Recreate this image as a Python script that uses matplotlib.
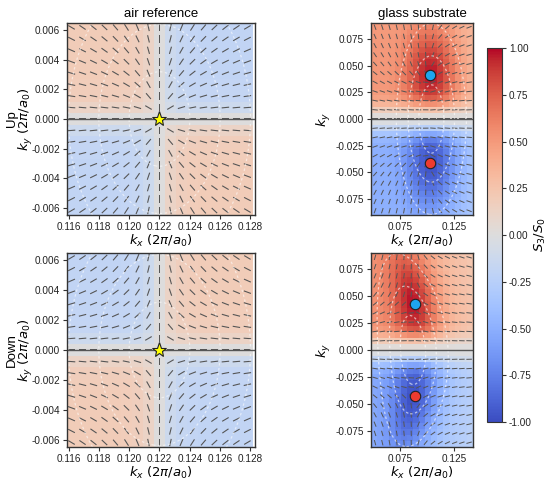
import matplotlib
matplotlib.use('Agg')
import matplotlib.pyplot as plt
import numpy as np

plt.rcParams['font.family'] = ['Liberation Sans', 'DejaVu Sans']
plt.rcParams['mathtext.fontset'] = 'dejavusans'
plt.rcParams['axes.unicode_minus'] = False

# ---- labels
col_titles = ['air reference', 'glass substrate']
row_names = ['Up', 'Down']
cbar_ticks = [-1.0, -0.75, -0.5, -0.25, 0.0, 0.25, 0.5, 0.75, 1.0]

# ---- air reference (17 x 17 k points around the V point)
air_kx = np.linspace(0.1162, 0.1278, 17)
air_ky = np.linspace(-0.0062, 0.0062, 17)
air_star = (0.122, 0.0)
air_amp = [0.19, -0.19]          # S3/S0 in the upper left quadrant, Up / Down
air_step = 0.0010                # how fast S3 leaves zero near the axes
air_tilt = [0.55, 0.55]          # squeeze of the radial polarisation angle
air_rings = [0.002, 0.004, 0.006]
air_xticks = [0.116, 0.118, 0.120, 0.122, 0.124, 0.126, 0.128]
air_yticks = [-0.006, -0.004, -0.002, 0.0, 0.002, 0.004, 0.006]
air_xlim = (0.1159, 0.1283)
air_ylim = (-0.0065, 0.0065)

# ---- glass substrate
glass_kx = np.linspace(0.0518, 0.139, 14)        # polarisation samples
glass_ky = np.linspace(-0.086, 0.086, 21)
glass_kx_map = np.linspace(0.0508, 0.1398, 17)   # colour map cells
glass_ky_map = np.linspace(-0.0873, 0.0873, 32)
glass_cx = [0.103, 0.089]        # C point positions (dots), Up / Down
glass_cy = [0.041, 0.043]
glass_peak = [0.97, 0.97]
glass_edge = [0.40, 0.42]
glass_edge_slope = [2.0, 3.0]
glass_wx = [0.024, 0.021]
glass_wy = [0.045, 0.055]
glass_bend = [0.0, 1.3]
glass_gap = 0.013                # grey band around ky = 0
glass_ring_x = [0.104, 0.087]
glass_ring_ax = 0.0116
glass_ring_ay = 0.032
glass_rings = [1.0, 1.85, 2.8]
glass_xticks = [0.075, 0.125]
glass_yticks = [-0.075, -0.05, -0.025, 0.0, 0.025, 0.05, 0.075]
glass_xlim = (0.048, 0.1426)
glass_ylim = (-0.09, 0.09)

seg_color = '#555555'
edge_color = '#333333'
ring_style = (0, (2, 2))


def air_fields(i, KX, KY):
    dx = KX - air_star[0]
    dy = KY - air_star[1]
    s3 = -air_amp[i] * np.tanh(dx / air_step) * np.tanh(dy / air_step)
    psi = np.arctan2(air_tilt[i] * dy, dx)
    if i == 1:
        psi = -psi
    return s3, psi


def glass_s3(i, KX, KY):
    xc = glass_cx[i] - glass_bend[i] * KY ** 2
    dx = KX - xc
    dy = np.abs(KY) - glass_cy[i]
    blob = np.exp(-(dx / glass_wx[i]) ** 2 - (dy / glass_wy[i]) ** 2)
    edge = glass_edge[i] - glass_edge_slope[i] * dx
    mag = edge + (glass_peak[i] - edge) * blob
    return np.sign(KY) * mag * (1 - np.exp(-(KY / glass_gap) ** 2))


def glass_psi(i, KX, KY):
    dx = KX - glass_cx[i]
    dx = np.where(dx > 0, 6.0 * dx, 0.5 * dx)
    psi = 0.5 * (np.arctan2(KY - glass_cy[i], dx) + np.arctan2(KY + glass_cy[i], dx))
    if i == 1:
        psi = -psi
    return psi


def style_axes(ax):
    for sp in ax.spines.values():
        sp.set_color(edge_color)
        sp.set_linewidth(1.0)
    ax.tick_params(direction='out', length=3, width=0.8, pad=2, colors=edge_color,
                   labelsize=7.2, labelcolor='#222222')


fig = plt.figure(figsize=(5.5, 4.83), dpi=100)

# axes boxes in figure fractions
left_x, left_w = 0.1218, 0.3418
right_x, right_w = 0.6745, 0.1855
row_y = [0.5549, 0.0745]
row_h = [0.3975, 0.4017]

mesh = None
for i in range(2):
    # ---------- air reference
    ax = fig.add_axes([left_x, row_y[i], left_w, row_h[i]])
    KX, KY = np.meshgrid(air_kx, air_ky)
    s3, psi = air_fields(i, KX, KY)
    ax.pcolormesh(air_kx, air_ky, s3, cmap='coolwarm', vmin=-1, vmax=1, shading='nearest')
    fine_x = np.linspace(air_xlim[0], air_xlim[1], 200)
    fine_y = np.linspace(air_ylim[0], air_ylim[1], 200)
    FX, FY = np.meshgrid(fine_x, fine_y)
    rr = np.sqrt((FX - air_star[0]) ** 2 + ((FY - air_star[1]) / 1.6) ** 2)
    ax.contour(FX, FY, rr, levels=air_rings, colors='white', linewidths=0.9,
               linestyles=[ring_style], alpha=0.55)
    ax.quiver(KX, KY, np.cos(psi), np.sin(psi), pivot='mid', color=seg_color,
              headwidth=0, headlength=0, headaxislength=0, units='inches',
              width=0.011, scale=1 / 0.075, scale_units='inches')
    ax.axhline(0, color=seg_color, lw=1.0)
    ax.plot(air_star[0], air_star[1], marker='*', ms=11, color='#ffff00',
            mec='#222222', mew=0.8, ls='none')
    ax.set_xlim(air_xlim)
    ax.set_ylim(air_ylim)
    ax.set_xticks(air_xticks)
    ax.set_yticks(air_yticks)
    ax.set_xticklabels(['%.3f' % v for v in air_xticks])
    ax.set_yticklabels(['%.3f' % v for v in air_yticks])
    ax.set_xlabel('$k_x$ $(2\\pi/a_0)$', fontsize=9.5, labelpad=1)
    ax.set_ylabel('$k_y$ $(2\\pi/a_0)$', fontsize=9.5)
    ax.yaxis.set_label_coords(-0.17, 0.5)
    ax.text(-0.293, 0.5, row_names[i], rotation=90, transform=ax.transAxes,
            ha='center', va='center', fontsize=9.5)
    if i == 0:
        ax.set_title(col_titles[0], fontsize=9.5, pad=4)
    style_axes(ax)

    # ---------- glass substrate
    ax = fig.add_axes([right_x, row_y[i], right_w, row_h[i]])
    MX, MY = np.meshgrid(glass_kx_map, glass_ky_map)
    mesh = ax.pcolormesh(glass_kx_map, glass_ky_map, glass_s3(i, MX, MY), cmap='coolwarm',
                         vmin=-1, vmax=1, shading='nearest')
    fine_x = np.linspace(glass_xlim[0], glass_xlim[1], 200)
    fine_y = np.linspace(glass_ylim[0], glass_ylim[1], 300)
    FX, FY = np.meshgrid(fine_x, fine_y)
    xc = glass_ring_x[i] - glass_bend[i] * FY ** 2 - (0.05 * FY if i == 1 else 0)
    rr = np.sqrt(((FX - xc) / glass_ring_ax) ** 2 + (FY / glass_ring_ay) ** 2)
    ax.contour(FX, FY, rr, levels=glass_rings, colors='white', linewidths=0.9,
               linestyles=[ring_style], alpha=0.6)
    KX, KY = np.meshgrid(glass_kx, glass_ky)
    psi = glass_psi(i, KX, KY)
    ax.quiver(KX, KY, np.cos(psi), np.sin(psi), pivot='mid', color=seg_color,
              headwidth=0, headlength=0, headaxislength=0, units='inches',
              width=0.010, scale=1 / 0.055, scale_units='inches')
    ax.axhline(0, color=seg_color, lw=1.0)
    ax.plot(glass_cx[i], glass_cy[i], 'o', ms=7.5, color='#1ea5ee', mec='#222222', mew=0.8)
    ax.plot(glass_cx[i], -glass_cy[i], 'o', ms=7.5, color='#ee3b30', mec='#222222', mew=0.8)
    ax.set_xlim(glass_xlim)
    ax.set_ylim(glass_ylim)
    ax.set_xticks(glass_xticks)
    ax.set_yticks(glass_yticks)
    ax.set_xticklabels(['%.3f' % v for v in glass_xticks])
    ax.set_yticklabels(['%.3f' % v for v in glass_yticks])
    ax.set_xlabel('$k_x$ $(2\\pi/a_0)$', fontsize=9.5, labelpad=1)
    ax.set_ylabel('$k_y$', fontsize=9.5, labelpad=2)
    if i == 0:
        ax.set_title(col_titles[1], fontsize=9.5, pad=4)
    style_axes(ax)

# colour bar
cax = fig.add_axes([0.8855, 0.1263, 0.0273, 0.7743])
cb = fig.colorbar(mesh, cax=cax, ticks=cbar_ticks)
cb.ax.set_yticklabels(['%.2f' % v for v in cbar_ticks])
cb.set_label('$S_3/S_0$', fontsize=9.5, labelpad=1)
cb.outline.set_edgecolor(edge_color)
cb.ax.tick_params(length=3, width=0.8, pad=2, colors=edge_color, labelsize=7.2,
                  labelcolor='#222222')

fig.savefig('out.png', dpi=100)
